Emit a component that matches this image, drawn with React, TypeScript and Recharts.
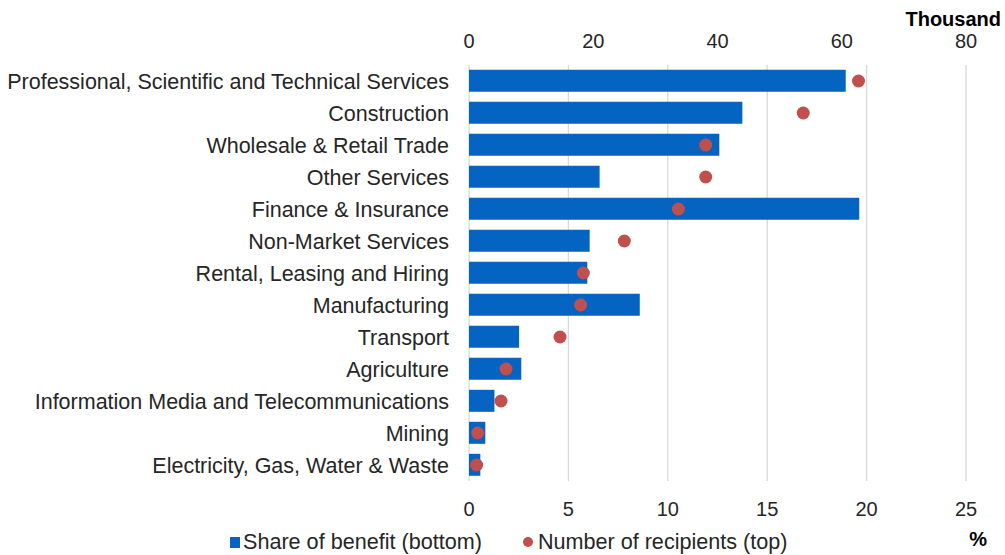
import React from 'react';
import { ComposedChart, Bar, Line, XAxis, YAxis, CartesianGrid, Legend } from 'recharts';

const categories = [
  'Professional, Scientific and Technical Services',
  'Construction',
  'Wholesale & Retail Trade',
  'Other Services',
  'Finance & Insurance',
  'Non-Market Services',
  'Rental, Leasing and Hiring',
  'Manufacturing',
  'Transport',
  'Agriculture',
  'Information Media and Telecommunications',
  'Mining',
  'Electricity, Gas, Water & Waste',
];

// Share of benefit (%), bottom axis
const shareOfBenefit = [18.95, 13.75, 12.59, 6.57, 19.63, 6.07, 5.95, 8.59, 2.52, 2.63, 1.28, 0.82, 0.57];
// Number of recipients (thousand), top axis
const recipients = [62.7, 53.8, 38.1, 38.1, 33.7, 25.0, 18.4, 17.96, 14.65, 5.96, 5.15, 1.4, 1.23];

const pctTicks = [0, 5, 10, 15, 20, 25];
const thousandTicks = [0, 20, 40, 60, 80];

const data = categories.map((name, i) => ({
  name,
  share: shareOfBenefit[i],
  recipients: recipients[i],
}));

const FONT = '"Liberation Sans", Arial, Helvetica, sans-serif';
const BLUE = '#0563C1';
const RED = '#C0504D';
const TEXT = '#262626';

const renderLegend = () => (
  <div
    style={{
      display: 'flex',
      alignItems: 'center',
      height: 28,
      paddingLeft: 230,
      fontFamily: FONT,
      fontSize: 21.6,
      color: TEXT,
      whiteSpace: 'nowrap',
    }}
  >
    <span style={{ display: 'inline-block', width: 10, height: 11, background: BLUE, marginRight: 3 }} />
    <span>Share of benefit (bottom)</span>
    <span
      style={{
        display: 'inline-block',
        width: 10,
        height: 10,
        borderRadius: '50%',
        background: RED,
        marginLeft: 41,
        marginRight: 5,
      }}
    />
    <span>Number of recipients (top)</span>
  </div>
);

export default function App() {
  return (
    <div style={{ position: 'absolute', left: 0, top: 0, width: 1005, height: 555, background: '#fff' }}>
      <ComposedChart
        width={1005}
        height={555}
        data={data}
        layout="vertical"
        margin={{ top: 35, right: 39, bottom: 16, left: 0 }}
        barCategoryGap="15%"
      >
        <CartesianGrid horizontal={false} vertical stroke="#D9D9D9" strokeWidth={1.3} xAxisId="pct" />
        <XAxis
          xAxisId="pct"
          type="number"
          orientation="bottom"
          domain={[0, 25]}
          ticks={pctTicks}
          interval={0}
          axisLine={false}
          tickLine={false}
          tickSize={0}
          tickMargin={21}
          height={30}
          tick={{ fontFamily: FONT, fontSize: 20, fill: TEXT }}
          label={{
            content: ({ viewBox }: any) => (
              <text
                x={viewBox.x + viewBox.width + 21}
                y={viewBox.y + 65}
                textAnchor="end"
                fontFamily={FONT}
                fontSize={20}
                fontWeight="bold"
                fill="#000"
              >
                %
              </text>
            ),
          }}
        />
        <XAxis
          xAxisId="k"
          type="number"
          orientation="top"
          domain={[0, 80]}
          ticks={thousandTicks}
          interval={0}
          axisLine={false}
          tickLine={false}
          tickSize={0}
          tickMargin={17}
          height={30}
          tick={{ fontFamily: FONT, fontSize: 20, fill: TEXT }}
          label={{
            content: ({ viewBox }: any) => (
              <text
                x={viewBox.x + viewBox.width + 35}
                y={viewBox.y - 9}
                textAnchor="end"
                fontFamily={FONT}
                fontSize={20}
                fontWeight="bold"
                fill="#000"
              >
                Thousand
              </text>
            ),
          }}
        />
        <YAxis
          type="category"
          dataKey="name"
          width={469}
          interval={0}
          axisLine={false}
          tickLine={false}
          tickSize={0}
          tickMargin={20}
          tick={{ fontFamily: FONT, fontSize: 21.5, fill: TEXT }}
        />
        <Legend verticalAlign="bottom" content={renderLegend} wrapperStyle={{ left: 0, top: 528, width: 1005, height: 28 }} />
        <Bar
          dataKey="share"
          name="Share of benefit (bottom)"
          xAxisId="pct"
          fill={BLUE}
          isAnimationActive={false}
        />
        <Line
          dataKey="recipients"
          name="Number of recipients (top)"
          xAxisId="k"
          stroke="none"
          dot={{ r: 6.5, fill: RED, stroke: 'none' }}
          activeDot={false}
          isAnimationActive={false}
        />
      </ComposedChart>
    </div>
  );
}
